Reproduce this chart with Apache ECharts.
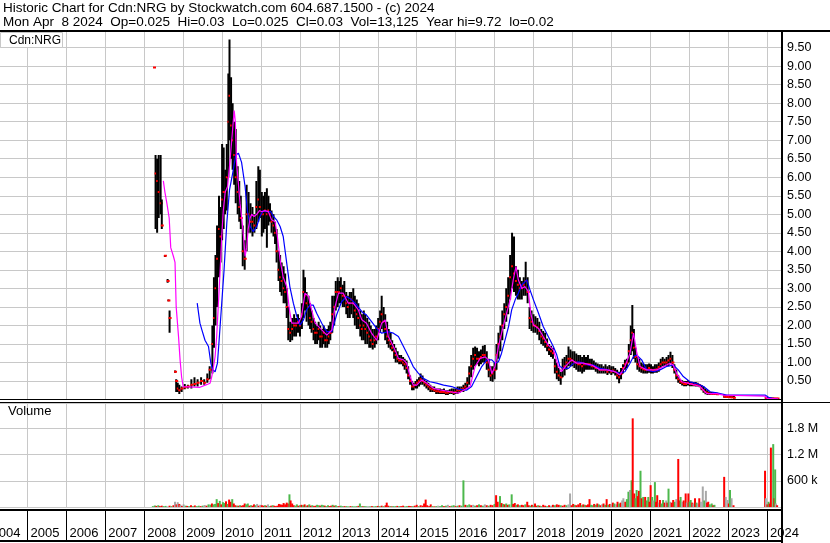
<!DOCTYPE html>
<html><head><meta charset="utf-8">
<script src="https://cdn.jsdelivr.net/npm/echarts@6/dist/echarts.min.js"></script>
<style>html,body{margin:0;padding:0;background:#fff}#c{width:830px;height:543px}</style>
</head><body><div id="c"></div><script>
const FONT = "'Liberation Sans', Arial, sans-serif";
const headerLine1 = 'Historic Chart for Cdn:NRG by Stockwatch.com 604.687.1500 - (c) 2024';
const headerLine2 = 'Mon Apr  8 2024  Op=0.025  Hi=0.03  Lo=0.025  Cl=0.03  Vol=13,125  Year hi=9.72  lo=0.02';
const symbolLabel = 'Cdn:NRG';
const volumeLabel = 'Volume';
const yearLabels = ['2004','2005','2006','2007','2008','2009','2010','2011','2012','2013','2014','2015','2016','2017','2018','2019','2020','2021','2022','2023','2024'];

// price bars (fractional year, high, low, close)
const barT = [2008.25,2008.29,2008.33,2008.37,2008.42,2008.45,2008.53,2008.6,2008.62,2008.65,2008.79,2008.82,2008.86,2008.9,2008.96,
2009.04,2009.12,2009.21,2009.29,2009.37,2009.46,2009.54,2009.62,2009.68,2009.75,2009.79,2009.83,2009.87,2009.92,2009.96,
2010.0,2010.04,2010.08,2010.12,2010.16,2010.19,2010.23,2010.27,2010.31,2010.35,2010.4,2010.44,2010.48,2010.53,2010.58,2010.63,2010.68,2010.73,2010.78,2010.83,2010.88,2010.93,2010.97,
2011.02,2011.06,2011.1,2011.15,2011.19,2011.23,2011.27,2011.32,2011.36,2011.4,2011.45,2011.49,2011.53,2011.58,2011.62,2011.66,2011.7,2011.75,2011.8,2011.85,2011.9,2011.95,
2012.0,2012.05,2012.09,2012.13,2012.17,2012.22,2012.26,2012.3,2012.35,2012.39,2012.44,2012.48,2012.52,2012.57,2012.61,2012.65,2012.7,2012.74,2012.78,2012.83,2012.88,2012.92,2012.97,
2013.01,2013.05,2013.1,2013.14,2013.19,2013.23,2013.28,2013.32,2013.37,2013.41,2013.46,2013.5,2013.55,2013.59,2013.64,2013.68,2013.73,2013.78,2013.82,2013.87,2013.92,2013.96,
2014.01,2014.06,2014.1,2014.15,2014.19,2014.24,2014.28,2014.33,2014.37,2014.42,2014.46,2014.51,2014.55,2014.6,2014.65,2014.69,2014.74,2014.78,2014.83,2014.88,2014.92,2014.97,
2015.01,2015.06,2015.1,2015.15,2015.2,2015.25,2015.3,2015.35,2015.4,2015.45,2015.5,2015.55,2015.6,2015.65,2015.7,2015.75,2015.8,2015.85,2015.9,2015.95,
2016.0,2016.05,2016.1,2016.15,2016.2,2016.25,2016.3,2016.35,2016.4,2016.45,2016.5,2016.55,2016.6,2016.65,2016.7,2016.75,2016.8,2016.85,2016.9,2016.95,
2017.0,2017.05,2017.1,2017.15,2017.2,2017.25,2017.3,2017.35,2017.4,2017.45,2017.5,2017.55,2017.6,2017.65,2017.7,2017.75,2017.8,2017.85,2017.9,2017.95,
2018.0,2018.05,2018.1,2018.15,2018.2,2018.25,2018.3,2018.35,2018.4,2018.45,2018.5,2018.55,2018.6,2018.65,2018.7,2018.75,2018.8,2018.85,2018.9,2018.95,
2019.0,2019.05,2019.1,2019.15,2019.2,2019.25,2019.3,2019.35,2019.4,2019.45,2019.5,2019.55,2019.6,2019.65,2019.7,2019.75,2019.8,2019.85,2019.9,2019.95,
2020.0,2020.05,2020.1,2020.15,2020.2,2020.25,2020.3,2020.35,2020.4,2020.45,2020.5,2020.54,2020.58,2020.62,2020.67,2020.72,2020.77,2020.82,2020.87,2020.92,2020.97,
2021.02,2021.07,2021.12,2021.17,2021.22,2021.27,2021.32,2021.37,2021.42,2021.47,2021.52,2021.57,2021.62,2021.67,2021.72,2021.77,2021.82,2021.87,2021.92,2021.97,
2022.02,2022.07,2022.12,2022.17,2022.22,2022.27,2022.32,2022.37,2022.42,2022.47,2022.52,2022.57,2022.62,2022.67,2022.72,
2022.9,2022.95,2023.0,2023.05,2023.1,2023.15,
2023.97,2024.02,2024.07,2024.12,2024.17,2024.22,2024.27];
const barH = [8.96,6.6,6.5,6.6,6.6,5.4,3.9,3.25,2.7,2.4,0.78,0.55,0.45,0.4,0.35,
0.42,0.4,0.55,0.6,0.55,0.6,0.55,0.7,0.9,2.0,3.3,3.9,4.7,5.5,5.2,
6.9,6.8,6.2,6.9,8.8,9.72,8.7,8.0,7.5,7.3,6.3,5.9,5.5,4.7,4.3,5.8,5.6,5.3,5.2,5.0,5.9,6.3,6.2,
5.6,5.5,5.6,5.7,5.5,5.3,5.1,5.0,4.8,4.6,4.0,3.9,3.7,3.6,3.4,3.0,2.5,2.1,2.2,2.3,2.2,2.3,
2.2,2.6,3.5,3.3,2.9,2.8,2.6,2.4,2.2,2.1,2.0,2.1,2.0,1.9,2.0,1.9,1.9,2.0,2.1,2.8,2.8,3.2,3.3,
3.2,3.3,3.1,3.2,2.9,2.8,2.9,2.9,3.0,2.8,2.7,2.6,2.4,2.3,2.4,2.3,2.2,2.1,2.0,1.9,1.9,2.0,
2.2,2.4,2.8,2.5,2.3,2.1,1.9,1.8,1.6,1.5,1.4,1.3,1.2,1.2,1.15,1.1,1.05,0.9,0.65,0.5,0.45,0.5,
0.55,0.6,0.7,0.65,0.55,0.5,0.45,0.4,0.35,0.35,0.3,0.3,0.3,0.28,0.3,0.25,0.25,0.28,0.3,0.3,
0.3,0.35,0.35,0.35,0.4,0.45,0.6,0.9,1.2,1.4,1.43,1.4,1.3,1.35,1.45,1.47,1.3,1.1,0.9,0.9,
1.0,1.5,1.8,2.0,2.4,2.6,3.0,3.3,3.9,4.5,4.4,3.6,3.5,3.3,3.2,3.3,3.72,3.3,2.5,2.4,
2.3,2.25,2.2,2.1,1.9,1.85,1.8,1.65,1.5,1.45,1.4,1.1,1.0,0.85,0.75,1.1,1.15,1.2,1.43,1.35,
1.3,1.3,1.24,1.2,1.2,1.15,1.2,1.15,1.2,1.1,1.1,1.05,1.0,0.97,0.95,0.95,0.9,0.95,0.9,0.93,
0.9,0.9,0.85,0.8,0.75,0.85,0.95,1.07,1.1,1.5,2.0,2.55,1.9,1.4,1.15,1.1,1.0,0.97,0.95,0.95,0.97,
0.95,0.9,0.95,0.95,1.0,1.1,1.15,1.1,1.15,1.2,1.29,1.2,0.95,0.8,0.65,0.55,0.52,0.5,0.5,0.52,
0.48,0.48,0.47,0.47,0.45,0.42,0.39,0.35,0.3,0.25,0.21,0.2,0.2,0.2,0.18,
0.12,0.12,0.11,0.1,0.1,0.1,
0.07,0.06,0.05,0.05,0.05,0.04,0.04];
const barL = [8.96,4.6,4.5,4.9,5.0,4.6,3.85,3.15,2.65,1.8,0.72,0.2,0.2,0.15,0.2,
0.28,0.3,0.3,0.35,0.35,0.4,0.4,0.45,0.55,0.7,1.4,2.0,2.5,3.3,3.7,
4.3,4.6,5.0,5.1,6.0,7.0,6.5,6.2,5.8,5.3,5.0,4.8,4.6,3.6,3.5,4.0,4.5,4.5,4.4,4.5,4.6,4.8,4.9,
4.4,4.5,4.6,4.1,4.7,4.8,4.5,4.4,4.2,3.7,3.2,2.9,2.8,2.6,2.6,2.2,1.6,1.55,1.6,1.7,1.7,1.8,
1.7,1.9,2.2,2.4,2.1,2.0,1.9,1.8,1.6,1.5,1.5,1.6,1.4,1.4,1.5,1.4,1.4,1.5,1.6,1.8,2.0,2.4,2.5,
2.6,2.6,2.5,2.5,2.3,2.2,2.2,2.3,2.2,2.0,1.9,1.9,1.7,1.6,1.6,1.5,1.5,1.4,1.4,1.35,1.4,1.5,
1.6,1.8,1.9,1.8,1.6,1.5,1.4,1.35,1.3,1.1,1.0,1.0,0.95,0.95,0.9,0.8,0.7,0.55,0.4,0.25,0.25,0.3,
0.3,0.35,0.4,0.4,0.35,0.3,0.25,0.2,0.2,0.2,0.15,0.15,0.15,0.15,0.15,0.12,0.12,0.15,0.15,0.12,
0.15,0.15,0.18,0.2,0.2,0.25,0.3,0.4,0.6,0.8,0.9,0.95,0.9,0.95,1.0,1.0,0.8,0.6,0.5,0.48,
0.55,0.8,1.1,1.3,1.6,1.9,2.1,2.3,2.7,3.0,2.9,2.8,2.7,2.7,2.7,2.8,2.8,2.6,1.9,1.85,
1.8,1.8,1.75,1.6,1.5,1.45,1.4,1.3,1.2,1.15,1.1,0.7,0.55,0.5,0.4,0.6,0.65,0.8,0.9,0.9,
0.9,0.85,0.8,0.75,0.75,0.7,0.75,0.8,0.8,0.8,0.8,0.8,0.75,0.7,0.7,0.7,0.7,0.7,0.66,0.7,
0.66,0.7,0.65,0.55,0.44,0.55,0.7,0.8,0.85,1.0,1.2,1.3,1.1,1.0,0.8,0.75,0.72,0.7,0.7,0.7,0.72,
0.7,0.7,0.72,0.72,0.75,0.85,0.9,0.9,0.9,0.9,0.95,0.85,0.7,0.55,0.45,0.42,0.38,0.36,0.36,0.38,
0.36,0.36,0.36,0.35,0.35,0.33,0.25,0.18,0.14,0.12,0.12,0.12,0.12,0.12,0.12,
0.05,0.04,0.04,0.04,0.04,0.03,
0.02,0.02,0.02,0.02,0.02,0.02,0.02];
const barC = [8.96,6.1,5.9,5.6,5.3,4.7,3.88,3.2,2.67,2.2,0.75,0.5,0.3,0.25,0.3,
0.33,0.35,0.4,0.42,0.45,0.5,0.45,0.55,0.8,1.5,2.2,3.0,3.8,4.6,4.4,
5.4,5.6,5.6,6.0,7.5,8.2,7.4,7.0,6.6,6.0,5.6,5.2,4.9,4.0,3.8,5.0,5.0,4.8,4.8,4.7,5.2,5.4,5.2,
5.0,5.0,5.1,5.0,5.1,5.0,4.8,4.7,4.5,4.0,3.5,3.3,3.2,3.0,2.9,2.5,1.9,1.8,1.9,2.0,2.0,2.1,
2.0,2.3,2.9,2.8,2.6,2.5,2.2,2.1,1.9,1.8,1.8,1.9,1.7,1.7,1.8,1.6,1.6,1.7,1.8,2.3,2.5,2.9,2.9,
2.9,3.0,2.8,2.8,2.6,2.5,2.6,2.7,2.6,2.4,2.3,2.2,2.0,1.9,2.0,1.9,1.8,1.7,1.6,1.5,1.6,1.7,
1.9,2.1,2.3,2.1,1.9,1.7,1.6,1.5,1.4,1.3,1.2,1.1,1.05,1.05,1.0,0.95,0.85,0.65,0.5,0.35,0.35,0.4,
0.45,0.5,0.55,0.5,0.45,0.4,0.35,0.3,0.28,0.25,0.22,0.22,0.2,0.2,0.2,0.18,0.18,0.2,0.2,0.18,
0.2,0.25,0.25,0.28,0.3,0.35,0.45,0.7,0.9,1.1,1.2,1.1,1.1,1.15,1.2,1.2,1.0,0.8,0.65,0.7,
0.8,1.2,1.5,1.7,2.0,2.3,2.5,2.8,3.3,3.6,3.4,3.2,3.1,3.0,3.0,3.1,3.2,2.9,2.2,2.1,
2.0,2.0,1.95,1.85,1.7,1.65,1.55,1.45,1.35,1.3,1.25,0.9,0.75,0.65,0.6,0.85,0.9,1.0,1.1,1.1,
1.05,1.0,1.0,0.95,0.95,0.9,0.95,0.95,0.95,0.95,0.9,0.9,0.85,0.85,0.8,0.8,0.8,0.8,0.75,0.8,
0.75,0.78,0.75,0.65,0.6,0.7,0.85,0.95,1.0,1.3,1.6,1.8,1.4,1.15,0.95,0.9,0.85,0.82,0.8,0.8,0.85,
0.8,0.78,0.8,0.82,0.88,0.95,1.0,1.0,1.0,1.05,1.1,1.0,0.8,0.65,0.55,0.48,0.45,0.42,0.42,0.45,
0.42,0.42,0.4,0.4,0.4,0.37,0.3,0.25,0.2,0.18,0.16,0.15,0.15,0.15,0.14,
0.08,0.07,0.07,0.06,0.06,0.05,
0.04,0.03,0.03,0.03,0.03,0.03,0.03];

// short moving average (pink)
const maShortT = [2008.49,2008.53,2008.58,2008.64,2008.68,2008.75,2008.79,2008.82,2008.88,2008.92,2008.96,2009.0,2009.43,2009.6,2009.69,2009.73,2009.78,2009.82,2009.86,2009.9,2009.95,2009.99,2010.03,2010.08,2010.14,2010.2,2010.27,2010.31,2010.34,2010.37,2010.42,2010.46,2010.5,2010.55,2010.59,2010.63,2010.67,2010.72,2010.76,2010.82,2010.89,2010.96,2011.02,2011.1,2011.19,2011.27,2011.36,2011.42,2011.49,2011.57,2011.66,2011.73,2011.79,2011.96,2012.04,2012.13,2012.22,2012.3,2012.39,2012.56,2012.69,2012.82,2012.9,2012.99,2013.11,2013.24,2013.37,2013.5,2013.59,2013.71,2013.84,2013.97,2014.1,2014.19,2014.27,2014.36,2014.44,2014.53,2014.66,2014.74,2014.83,2014.91,2015.0,2015.13,2015.26,2015.43,2015.6,2015.86,2016.07,
2016.11,2016.37,2016.5,2016.63,2016.76,2016.84,2016.93,2017.01,2017.1,2017.18,2017.31,2017.4,2017.48,2017.55,2017.61,2017.7,2017.78,2017.87,2017.93,2018.0,2018.13,2018.25,2018.38,2018.51,2018.64,2018.72,2018.85,2018.98,2019.11,2019.28,2019.5,2019.71,2019.88,2020.1,2020.22,2020.35,2020.48,2020.57,2020.65,2020.74,2020.91,2021.17,2021.34,2021.51,2021.59,2021.68,2021.81,2022.02,2022.28,2022.45,2022.71,2022.88,2023.95,2024.0,2024.29];
const maShortV = [5.9,5.6,5.3,4.9,4.1,3.86,3.7,2.5,1.7,1.07,0.6,0.35,0.33,0.4,0.44,0.6,0.89,1.16,1.7,2.5,3.5,4.4,5.1,5.6,5.75,6.4,7.3,7.8,7.5,6.4,5.8,5.3,4.94,4.4,3.86,4.1,4.6,4.9,5.0,4.94,5.0,5.1,5.07,5.1,5.07,4.85,4.8,4.4,3.77,3.3,3.05,2.42,2.06,2.06,2.24,2.87,2.78,2.42,2.06,1.88,1.74,1.88,2.5,2.87,2.87,2.6,2.6,2.42,2.15,2.06,1.79,1.6,2.06,2.15,1.7,1.52,1.34,1.11,1.07,0.98,0.62,0.39,0.39,0.53,0.44,0.3,0.26,0.21,0.17,
0.21,0.35,0.89,1.11,1.15,1.07,0.7,0.89,1.43,1.79,2.33,2.69,3.23,3.59,3.23,3.0,3.05,2.91,2.33,2.01,1.92,1.7,1.47,1.34,0.89,0.75,0.93,1.07,0.98,0.98,0.93,0.8,0.8,0.75,0.66,0.89,1.25,1.79,1.29,0.89,0.8,0.8,0.89,0.98,0.93,0.7,0.48,0.43,0.35,0.16,0.16,0.12,0.09,0.03,0.02];

// long moving average (blue)
const maLongT = [2009.36,2009.43,2009.48,2009.56,2009.65,2009.71,2009.76,2009.82,2009.88,2009.93,2009.99,2010.05,2010.12,2010.19,2010.27,2010.35,2010.42,2010.5,2010.59,2010.65,2010.72,2010.8,2010.89,2010.97,2011.06,2011.15,2011.25,2011.32,2011.4,2011.49,2011.57,2011.66,2011.74,2011.83,2011.92,2012.0,2012.09,2012.17,2012.26,2012.34,2012.43,2012.56,2012.69,2012.82,2012.94,2013.07,2013.2,2013.33,2013.46,2013.59,2013.71,2013.84,2013.97,2014.1,2014.27,2014.4,2014.53,2014.66,2014.79,2014.91,2015.04,2015.17,2015.34,2015.51,2015.69,2015.9,2016.07,
2016.11,2016.28,2016.41,2016.54,2016.67,2016.8,2016.93,2017.01,2017.1,2017.18,2017.27,2017.36,2017.44,2017.53,2017.61,2017.7,2017.83,2017.91,2018.0,2018.13,2018.25,2018.38,2018.51,2018.6,2018.68,2018.77,2018.9,2019.03,2019.15,2019.28,2019.41,2019.54,2019.71,2019.92,2020.1,2020.22,2020.35,2020.48,2020.57,2020.65,2020.78,2020.91,2021.08,2021.25,2021.42,2021.59,2021.72,2021.85,2022.02,2022.19,2022.37,2022.54,2022.71,2022.97,2023.95,2024.04,2024.29];
const maLongV = [2.6,2.06,1.88,1.6,1.43,0.98,0.8,0.75,0.98,1.7,2.6,3.5,4.76,5.66,6.1,6.6,6.65,6.4,5.75,5.1,4.67,4.53,4.67,4.94,5.1,5.07,5.07,4.94,4.85,4.67,4.4,3.68,3.05,2.6,2.24,2.01,2.15,2.42,2.55,2.55,2.33,2.06,1.83,1.83,2.28,2.64,2.78,2.69,2.55,2.37,2.28,2.1,1.92,1.79,1.83,1.79,1.7,1.43,1.16,0.89,0.71,0.57,0.48,0.44,0.39,0.35,0.28,
0.25,0.25,0.35,0.62,0.89,1.07,1.07,0.98,1.02,1.25,1.61,1.97,2.42,2.69,2.87,3.09,3.23,2.96,2.69,2.33,1.97,1.7,1.43,1.2,0.89,0.84,0.84,0.98,1.02,0.98,0.93,0.93,0.84,0.8,0.75,0.71,0.75,0.98,1.16,1.2,1.07,0.8,0.75,0.8,0.89,0.93,0.8,0.62,0.48,0.43,0.35,0.21,0.18,0.12,0.12,0.06,0.0];

// volume (fractional year, thousands of shares, u=up green / d=down red / n=unchanged grey)
const volT = [2008.22,2008.27,2008.31,2008.36,2008.4,2008.45,2008.5,2008.55,2008.6,2008.65,2008.7,2008.75,2008.79,2008.83,2008.86,2008.9,2008.93,2008.97,
2009.01,2009.06,2009.1,2009.15,2009.2,2009.25,2009.3,2009.35,2009.4,2009.45,2009.5,2009.55,2009.6,2009.65,2009.7,2009.74,2009.78,2009.82,2009.86,2009.9,2009.94,2009.98,
2010.02,2010.06,2010.1,2010.14,2010.18,2010.22,2010.26,2010.3,2010.34,2010.38,2010.42,2010.46,2010.5,2010.54,2010.58,2010.62,2010.66,2010.7,2010.74,2010.78,2010.82,2010.86,2010.9,2010.94,2010.98,
2011.02,2011.06,2011.1,2011.14,2011.18,2011.22,2011.26,2011.3,2011.34,2011.38,2011.42,2011.46,2011.5,2011.54,2011.58,2011.62,2011.66,2011.7,2011.73,2011.76,2011.8,2011.84,2011.88,2011.92,2011.96,
2012.0,2012.04,2012.08,2012.12,2012.16,2012.2,2012.24,2012.28,2012.32,2012.36,2012.4,2012.44,2012.48,2012.52,2012.56,2012.6,2012.64,2012.68,2012.72,2012.76,2012.8,2012.84,2012.88,2012.92,2012.96,
2013.0,2013.05,2013.1,2013.15,2013.2,2013.25,2013.3,2013.35,2013.4,2013.45,2013.5,2013.54,2013.58,2013.62,2013.66,2013.7,2013.75,2013.8,2013.85,2013.9,2013.95,
2014.0,2014.05,2014.1,2014.15,2014.2,2014.23,2014.27,2014.32,2014.36,2014.4,2014.45,2014.5,2014.55,2014.6,2014.65,2014.7,2014.75,2014.8,2014.85,2014.9,2014.95,
2015.0,2015.05,2015.1,2015.15,2015.19,2015.23,2015.27,2015.32,2015.36,2015.4,2015.45,2015.5,2015.55,2015.6,2015.65,2015.7,2015.75,2015.8,2015.85,2015.9,2015.95,
2016.0,2016.05,2016.1,2016.15,2016.2,2016.25,2016.3,2016.35,2016.4,2016.45,2016.5,2016.55,2016.6,2016.65,2016.7,2016.75,2016.8,2016.85,2016.9,2016.95,
2017.0,2017.04,2017.08,2017.14,2017.18,2017.22,2017.26,2017.3,2017.34,2017.38,2017.44,2017.48,2017.52,2017.56,2017.6,2017.65,2017.7,2017.74,2017.79,2017.84,2017.88,2017.92,2017.96,
2018.0,2018.04,2018.08,2018.12,2018.16,2018.2,2018.25,2018.3,2018.35,2018.4,2018.45,2018.5,2018.55,2018.6,2018.65,2018.7,2018.75,2018.8,2018.85,2018.9,2018.94,2018.98,
2019.02,2019.06,2019.1,2019.15,2019.2,2019.24,2019.28,2019.32,2019.36,2019.4,2019.44,2019.48,2019.52,2019.56,2019.6,2019.64,2019.68,2019.72,2019.76,2019.8,2019.84,2019.88,2019.92,2019.96,
2020.0,2020.04,2020.08,2020.12,2020.16,2020.2,2020.24,2020.28,2020.31,2020.36,2020.4,2020.44,2020.48,2020.52,2020.55,2020.59,2020.62,2020.65,2020.68,2020.71,2020.75,2020.78,2020.82,2020.87,2020.91,2020.95,2020.98,
2021.01,2021.05,2021.08,2021.12,2021.15,2021.18,2021.22,2021.25,2021.29,2021.33,2021.37,2021.41,2021.44,2021.47,2021.51,2021.55,2021.59,2021.63,2021.67,2021.72,2021.75,2021.78,2021.82,2021.86,2021.91,2021.94,2021.98,
2022.01,2022.04,2022.08,2022.11,2022.15,2022.19,2022.22,2022.26,2022.3,2022.35,2022.39,2022.43,2022.46,2022.49,2022.53,2022.58,2022.62,2022.65,
2022.9,2022.94,2022.99,2023.02,2023.05,2023.09,2023.14,
2023.95,2023.97,2024.01,2024.04,2024.07,2024.1,2024.16,2024.19,2024.21,2024.23,2024.26];
const volV = [20,35,25,40,20,30,20,25,15,30,20,40,120,60,110,70,50,25,
60,30,25,20,40,20,35,20,30,20,30,45,30,60,55,80,60,70,180,90,140,60,
110,90,130,70,170,120,180,80,40,30,30,40,30,40,80,60,80,30,40,30,60,40,70,30,50,
40,30,40,30,60,20,30,40,30,20,30,70,60,50,90,60,100,80,290,150,80,40,30,60,30,
40,50,40,60,30,40,60,30,40,20,30,50,40,30,50,40,30,20,40,20,30,50,30,40,20,
20,30,20,20,20,15,20,20,15,20,25,80,20,15,20,15,20,15,20,15,20,
25,20,30,20,40,100,30,20,15,20,20,25,20,20,30,15,20,25,20,20,30,
50,20,40,30,80,170,40,20,60,20,15,20,30,20,40,20,30,50,20,30,40,
20,30,40,30,610,50,40,60,40,50,30,40,60,40,30,60,40,30,50,40,
70,270,120,250,90,70,60,80,50,60,290,70,90,50,60,40,50,40,60,120,40,30,50,
30,80,30,40,30,20,50,30,20,40,30,50,40,60,50,40,30,50,40,60,310,40,
70,50,40,60,90,40,60,50,40,60,180,50,40,70,50,80,60,40,60,80,50,180,50,70,
60,100,80,60,120,80,100,150,200,120,180,350,390,610,2030,310,200,390,250,370,830,200,230,230,150,230,120,
500,230,150,570,120,270,100,160,80,160,100,150,100,420,120,100,160,120,180,1100,150,230,120,150,310,100,310,
120,160,100,80,200,100,80,200,120,470,150,370,100,120,60,80,40,50,
690,230,160,80,390,200,40,
830,200,60,120,80,1360,1440,200,860,80,40];
const volC = ['u','u','d','u','d','d','u','u','n','d','u','d','n','d','n','d','n','d',
'n','u','d','u','d','u','d','u','u','d','u','n','d','u','u','d','u','u','u','d','u','d',
'u','u','d','u','d','d','u','d','d','u','d','u','d','d','d','u','u','d','u','d','d','u','n','d','n',
'd','d','u','d','n','u','d','u','d','d','d','d','d','d','d','d','d','d','u','d','d','d','u','u','d',
'u','d','u','d','u','d','u','d','u','d','d','u','u','d','u','u','d','u','u','d','d','u','d','u','u',
'd','u','u','d','u','u','d','u','u','u','d','u','u','d','u','u','n','u','d','u','u',
'd','u','d','u','d','d','d','u','d','u','u','d','u','d','d','u','u','d','d','u','d',
'd','u','d','d','d','d','d','d','d','u','d','u','n','u','u','d','u','n','d','u','u',
'd','u','d','u','u','d','u','u','d','n','u','d','u','d','u','n','d','u','d','d',
'u','d','d','u','d','u','d','u','d','u','u','d','d','u','d','u','d','d','u','d','d','u','d',
'u','d','d','u','d','u','d','d','u','d','n','d','u','d','d','u','d','d','u','n','n','d',
'd','u','d','d','d','u','d','u','d','d','d','u','u','d','u','d','u','d','n','d','u','d','u','d',
'n','d','u','n','d','u','d','n','n','d','u','u','n','u','d','d','u','u','d','d','u','d','u','d','u','u','d',
'd','u','n','u','d','d','n','d','u','u','d','n','d','u','n','d','d','u','n','d','d','u','n','d','d','n','d',
'u','u','d','n','d','u','n','d','n','n','u','n','d','d','u','u','d','u',
'd','n','n','d','u','n','d',
'd','n','d','u','d','d','u','d','u','n','d'];

const chart = echarts.init(document.getElementById('c'), null, {renderer:'canvas'});
const PX_LEFT = -11.4, PX_RIGHT = 781;
const X_MIN = 2004, X_MAX = 2024.36;
const GRID_W = PX_RIGHT - PX_LEFT;
const gridColor = '#c8c8c8';
const volColor = {u:'#4cb84c', d:'#ff0000', n:'#a8a8a8'};

function xAxisBase(gi, extra){
  return Object.assign({type:'value', gridIndex:gi, min:X_MIN, max:X_MAX, interval:1,
    axisLine:{show:false}, axisTick:{show:false}, axisLabel:{show:false},
    splitLine:{show:true, lineStyle:{color:gridColor, width:1}}}, extra||{});
}

const priceBars = barT.map((t,i)=>[t, barH[i], barL[i], barC[i]]);
const volData = volT.map((t,i)=>[t, volV[i]*1000, volC[i]]);

chart.setOption({
  animation:false,
  backgroundColor:'#ffffff',
  grid:[
    {left:PX_LEFT, top:31, width:GRID_W, height:368.5, outerBoundsMode:'none', containLabel:false},
    {left:PX_LEFT, top:403, width:GRID_W, height:104, outerBoundsMode:'none', containLabel:false},
    {left:PX_LEFT, top:510, width:GRID_W, height:30, outerBoundsMode:'none', containLabel:false}
  ],
  xAxis:[
    xAxisBase(0), xAxisBase(1),
    xAxisBase(2, {splitLine:{show:true, lineStyle:{color:'#000', width:1}},
      axisLabel:{show:true, inside:true, margin:0, align:'left', verticalAlign:'bottom', padding:[0,0,0,3],
        color:'#000', fontFamily:FONT, fontSize:13,
        formatter:(v)=>{const r=Math.round(v); return Math.abs(v-r)<1e-6 ? yearLabels[r-2004] : '';}}})
  ],
  yAxis:[
    {type:'value', gridIndex:0, position:'right', min:0, max:9.948, interval:0.5,
      axisLine:{show:false}, axisTick:{show:false},
      splitLine:{show:true, lineStyle:{color:gridColor, width:1}},
      axisLabel:{margin:6, color:'#000', fontFamily:FONT, fontSize:12.5,
        formatter:(v)=> (v>0.01 && v<9.6) ? v.toFixed(2) : ''}},
    {type:'value', gridIndex:1, position:'right', min:0, max:2381680, interval:600000,
      axisLine:{show:false}, axisTick:{show:false},
      splitLine:{show:true, lineStyle:{color:gridColor, width:1}},
      axisLabel:{margin:6, color:'#000', fontFamily:FONT, fontSize:12.5,
        formatter:(v)=>{ if (Math.abs(v-600000)<1) return '600 k'; if (Math.abs(v-1200000)<1) return '1.2 M'; if (Math.abs(v-1800000)<1) return '1.8 M'; return ''; }}},
    {type:'value', gridIndex:2, min:0, max:1, show:false}
  ],
  series:[
    {type:'custom', xAxisIndex:0, yAxisIndex:0, data:priceBars, clip:true, silent:true,
      encode:{x:0, y:[1,2]},
      renderItem:(params, api)=>{
        const t = api.value(0);
        const top = api.coord([t, api.value(1)]);
        const bot = api.coord([t, api.value(2)]);
        const cl = api.coord([t, api.value(3)]);
        const children = [];
        const h = bot[1]-top[1];
        if (h > 0.5) children.push({type:'rect', shape:{x:top[0]-1, y:top[1], width:2, height:h}, style:{fill:'#000'}});
        children.push({type:'rect', shape:{x:cl[0]-1, y:cl[1]-1, width:3, height:2}, style:{fill:'#ff0000'}});
        return {type:'group', children};
      }},
    {type:'line', xAxisIndex:0, yAxisIndex:0, data:maLongT.map((t,i)=>[t, maLongV[i]]),
      showSymbol:false, silent:true, lineStyle:{color:'#0000ff', width:1.2}, z:3},
    {type:'line', xAxisIndex:0, yAxisIndex:0, data:maShortT.map((t,i)=>[t, maShortV[i]]),
      showSymbol:false, silent:true, lineStyle:{color:'#ff00ff', width:1.2}, z:4},
    {type:'custom', xAxisIndex:1, yAxisIndex:1, data:volData, clip:true, silent:true,
      encode:{x:0, y:1},
      renderItem:(params, api)=>{
        const t = api.value(0);
        const top = api.coord([t, api.value(1)]);
        const base = api.coord([t, 0]);
        const c = volData[params.dataIndex][2];
        return {type:'rect', shape:{x:top[0]-1, y:top[1], width:2, height:base[1]-top[1]+1}, style:{fill:volColor[c]}};
      }}
  ],
  graphic:[
    {type:'text', left:3, top:1, z:100, style:{text:headerLine1, font:'13.5px '+FONT, fill:'#000'}},
    {type:'text', left:3, top:15, z:100, style:{text:headerLine2, font:'13.5px '+FONT, fill:'#000'}},
    {type:'rect', z:100, shape:{x:0, y:30, width:830, height:2}, style:{fill:'#000'}},
    {type:'rect', z:100, shape:{x:781, y:30, width:2, height:513}, style:{fill:'#000'}},
    {type:'rect', z:100, shape:{x:0, y:399, width:781, height:1}, style:{fill:'#000'}},
    {type:'rect', z:100, shape:{x:0, y:402, width:830, height:1}, style:{fill:'#000'}},
    {type:'rect', z:100, shape:{x:0, y:509, width:781, height:2}, style:{fill:'#000'}},
    {type:'rect', z:100, shape:{x:0, y:540, width:781, height:2}, style:{fill:'#000'}},
    {type:'rect', z:99, shape:{x:0.5, y:32.5, width:62, height:15}, style:{fill:'#fff', stroke:gridColor, lineWidth:1}},
    {type:'text', left:9, top:35, z:101, style:{text:symbolLabel, font:'12px '+FONT, fill:'#000'}},
    {type:'text', left:8, top:405, z:101, style:{text:volumeLabel, font:'13px '+FONT, fill:'#000'}}
  ]
});
</script></body></html>
